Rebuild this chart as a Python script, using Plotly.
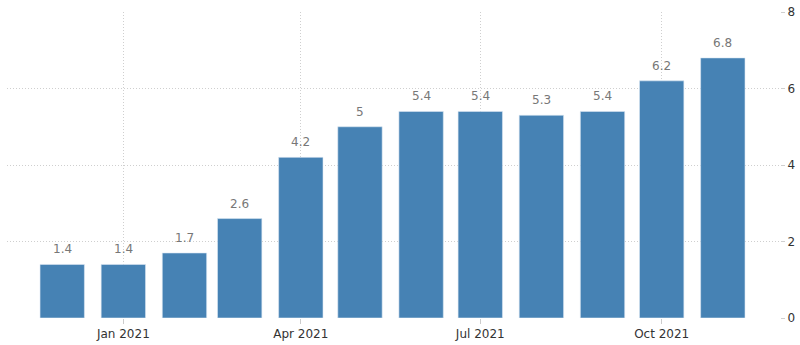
import plotly.graph_objects as go

months = ["2020-12-01", "2021-01-01", "2021-02-01", "2021-03-01", "2021-04-01", "2021-05-01",
          "2021-06-01", "2021-07-01", "2021-08-01", "2021-09-01", "2021-10-01", "2021-11-01"]
values = [1.4, 1.4, 1.7, 2.6, 4.2, 5, 5.4, 5.4, 5.3, 5.4, 6.2, 6.8]
labels = ["1.4", "1.4", "1.7", "2.6", "4.2", "5", "5.4", "5.4", "5.3", "5.4", "6.2", "6.8"]
x_ticks = ["2021-01-01", "2021-04-01", "2021-07-01", "2021-10-01"]
x_ticktext = ["Jan 2021", "Apr 2021", "Jul 2021", "Oct 2021"]
y_ticks = [0, 2, 4, 6, 8]

DAY_MS = 86400000
bar_width = 22.5 * DAY_MS

fig = go.Figure()
fig.add_trace(go.Bar(
    x=months, y=values,
    width=[bar_width] * len(values),
    marker=dict(color="#4682b4", line=dict(color="#dce8f3", width=0.6)),
    hoverinfo="x+y",
))

for m, v, t in zip(months, values, labels):
    fig.add_annotation(x=m, y=v, text=t, showarrow=False, yshift=15,
                       font=dict(family="DejaVu Sans", size=12, color="#777777"))

fig.update_layout(
    width=800, height=345,
    margin=dict(l=7, r=20, t=12, b=27, autoexpand=False),
    paper_bgcolor="white", plot_bgcolor="white",
    showlegend=False,
    font=dict(family="DejaVu Sans", size=12, color="#333333"),
)
fig.update_xaxes(
    type="date", automargin=False,
    range=["2020-11-03", "2021-11-30"],
    tickvals=x_ticks, ticktext=x_ticktext,
    showgrid=True, gridcolor="#cfcfcf", griddash="1px,2px", gridwidth=1,
    ticks="outside", ticklen=5, tickcolor="#cccccc",
    showline=False, zeroline=False,
    tickfont=dict(family="DejaVu Sans", size=12, color="#333333"),
)
fig.update_yaxes(
    side="right", range=[0, 8], tickvals=y_ticks, automargin=False,
    showgrid=True, gridcolor="#cfcfcf", griddash="1px,2px", gridwidth=1,
    ticks="outside", ticklen=4, tickcolor="#cfcfcf",
    zeroline=False, showline=False,
    tickfont=dict(family="DejaVu Sans", size=12, color="#333333"),
)

fig.write_html("out.html")
